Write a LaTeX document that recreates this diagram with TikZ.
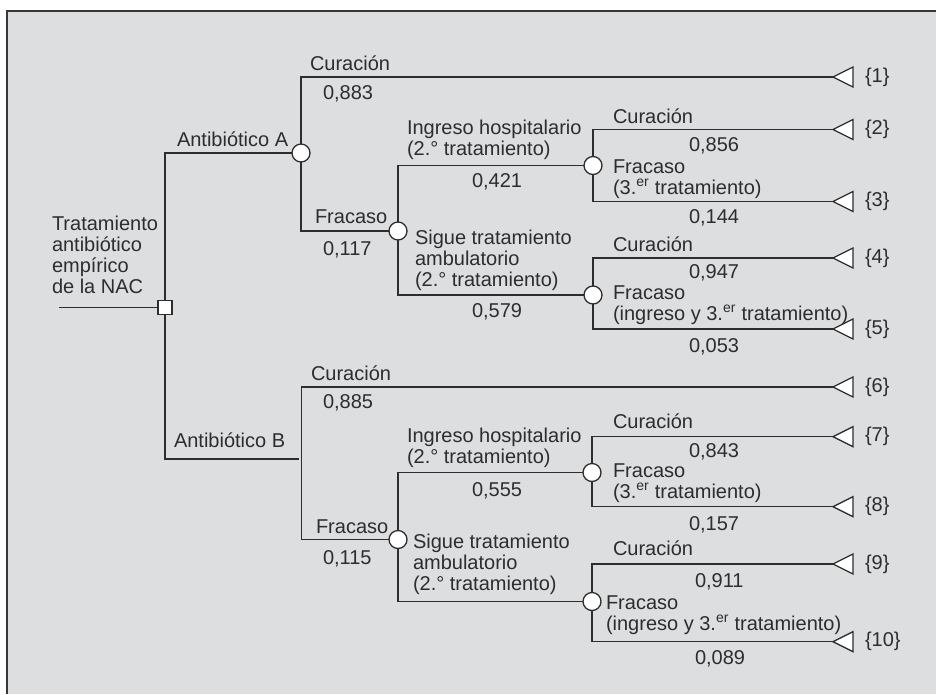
\documentclass[tikz,border=0pt]{standalone}
\usepackage{fontspec}
\setmainfont{Liberation Sans}
\definecolor{bg}{RGB}{221,222,224}
\definecolor{ink}{RGB}{45,45,45}
\definecolor{framec}{RGB}{55,55,55}
\newcommand{\mlines}[1]{\begin{tabular}[t]{@{}l@{}}#1\end{tabular}}
\begin{document}
\begin{tikzpicture}[x=1pt,y=-1pt,
  every node/.style={inner sep=0pt, outer sep=0pt},
  txt/.style={font=\fontsize{20}{21}\selectfont, text=ink, anchor=base west},
  endlbl/.style={font=\fontsize{20}{21}\selectfont, text=ink, anchor=west},
  edge/.style={draw=ink, line width=1.3pt},
  chance/.style={circle, draw=ink, fill=white, line width=1.3pt, minimum size=18pt},
  decision/.style={rectangle, draw=ink, fill=white, line width=1.3pt, minimum size=14pt},
  endtri/.style={draw=ink, fill=white, line width=1.3pt, line join=miter}]
\useasboundingbox (0,0) rectangle (936,694);
\fill[bg] (7,11) rectangle (936,694);
\draw[framec, line width=1.6pt] (7,694) -- (7,11) -- (936,11);

% decision and chance nodes
\node[decision] (sq) at (165,307.5) {};
\node[chance] (cA) at (301,153) {};
\node[chance] (cA2) at (398,231) {};
\node[chance] (cAI) at (593,165.5) {};
\node[chance] (cAS) at (593,295) {};
\node[chance] (cB2) at (398,539.5) {};
\node[chance] (cBI) at (592,472.5) {};
\node[chance] (cBS) at (592,601.5) {};
\coordinate (start) at (59,307.5);
\coordinate (eB) at (299,459);
\coordinate (vB) at (301.5,459);

% terminal tips
\coordinate (t1) at (833,77);
\coordinate (t2) at (833,129.5);
\coordinate (t3) at (833,201.5);
\coordinate (t4) at (833,258);
\coordinate (t5) at (833,329);
\coordinate (t6) at (833,387);
\coordinate (t7) at (833,436.7);
\coordinate (t8) at (833,506.7);
\coordinate (t9) at (833,564);
\coordinate (t10) at (833,641.7);

% connectors
\draw[edge] (start) -- (sq);
\draw[edge] (sq) |- (cA);
\draw[edge] (sq) |- (eB);
\draw[edge] (cA) |- (t1);
\draw[edge] (cA) |- (cA2);
\draw[edge] (cA2) |- (cAI);
\draw[edge] (cA2) |- (cAS);
\draw[edge] (cAI) |- (t2);
\draw[edge] (cAI) |- (t3);
\draw[edge] (cAS) |- (t4);
\draw[edge] (cAS) |- (t5);
\draw[edge] (vB) |- (t6);
\draw[edge] (vB) |- (cB2);
\draw[edge] (cB2) |- (cBI);
\draw[edge] (cB2) |- (cBS);
\draw[edge] (cBI) |- (t7);
\draw[edge] (cBI) |- (t8);
\draw[edge] (cBS) |- (t9);
\draw[edge] (cBS) |- (t10);

% terminal triangles and labels
\foreach \i in {1,...,10} {
  \draw[endtri] (t\i) -- ++(20,-10) -- ++(0,20) -- cycle;
}
\node[endlbl] (o1) at (865,77) {\{1\}};
\node[endlbl] (o2) at (865,129.5) {\{2\}};
\node[endlbl] (o3) at (865,201.5) {\{3\}};
\node[endlbl] (o4) at (865,258) {\{4\}};
\node[endlbl] (o5) at (865,329) {\{5\}};
\node[endlbl] (o6) at (865,387) {\{6\}};
\node[endlbl] (o7) at (865,436.7) {\{7\}};
\node[endlbl] (o8) at (865,506.7) {\{8\}};
\node[endlbl] (o9) at (865,564) {\{9\}};
\node[endlbl] (o10) at (865,641.7) {\{10\}};

% labels
\node[txt] (root) at (52,230) {\mlines{Tratamiento\\antibiótico\\empírico\\de la NAC}};
\node[txt] (tA) at (177,146) {Antibiótico A};
\node[txt] (tB) at (174,447) {Antibiótico B};

\node[txt] (l1) at (310,70) {Curación};
\node[txt] (p1) at (323,99) {0,883};
\node[txt] (lF) at (315,223) {Fracaso};
\node[txt] (pF) at (323,255) {0,117};
\node[txt] (lI) at (407,134) {\mlines{Ingreso hospitalario\\(2.° tratamiento)}};
\node[txt] (pI) at (472,187) {0,421};
\node[txt] (lS) at (415,244) {\mlines{Sigue tratamiento\\ambulatorio\\(2.° tratamiento)}};
\node[txt] (pS) at (472,317) {0,579};
\node[txt] (l2) at (613,123) {Curación};
\node[txt] (p2) at (689,151) {0,856};
\node[txt] (l3) at (613,173) {\mlines{Fracaso\\(3.\textsuperscript{er} tratamiento)}};
\node[txt] (p3) at (689,223) {0,144};
\node[txt] (l4) at (613,251) {Curación};
\node[txt] (p4) at (689,278) {0,947};
\node[txt] (l5) at (613,299) {\mlines{Fracaso\\(ingreso y 3.\textsuperscript{er} tratamiento)}};
\node[txt] (p5) at (689,352) {0,053};

\node[txt] (l6) at (311,380) {Curación};
\node[txt] (p6) at (323,408) {0,885};
\node[txt] (lFB) at (316,533) {Fracaso};
\node[txt] (pFB) at (323,564) {0,115};
\node[txt] (lIB) at (407,442) {\mlines{Ingreso hospitalario\\(2.° tratamiento)}};
\node[txt] (pIB) at (472,496) {0,555};
\node[txt] (lSB) at (413,548) {\mlines{Sigue tratamiento\\ambulatorio\\(2.° tratamiento)}};
\node[txt] (l7) at (613,428) {Curación};
\node[txt] (p7) at (689,457) {0,843};
\node[txt] (l8) at (613,477) {\mlines{Fracaso\\(3.\textsuperscript{er} tratamiento)}};
\node[txt] (p8) at (689,530) {0,157};
\node[txt] (l9) at (613,555) {Curación};
\node[txt] (p9) at (695,587) {0,911};
\node[txt] (l10) at (606,609) {\mlines{Fracaso\\(ingreso y 3.\textsuperscript{er} tratamiento)}};
\node[txt] (p10) at (695,664) {0,089};
\end{tikzpicture}
\end{document}
